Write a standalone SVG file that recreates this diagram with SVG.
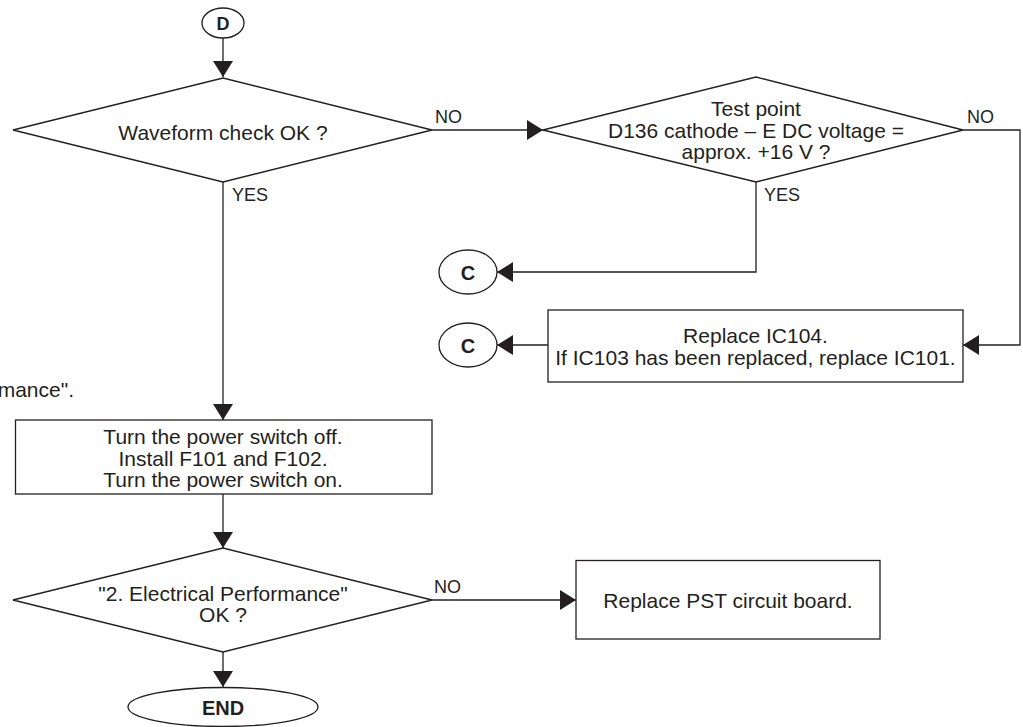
<svg xmlns="http://www.w3.org/2000/svg" width="1023" height="727" viewBox="0 0 1023 727">
<style>
.s{fill:#fff;stroke:#231f20;stroke-width:1.3}
.t{font-family:"Liberation Sans",Arial,sans-serif;font-size:21px;fill:#231f20;text-anchor:middle}
.b{font-family:"Liberation Sans",Arial,sans-serif;font-weight:bold;fill:#231f20;text-anchor:middle}
.l{font-family:"Liberation Sans",Arial,sans-serif;font-size:18px;fill:#231f20}
.c{fill:none;stroke:#231f20;stroke-width:1.3;marker-end:url(#arr)}
</style>
<defs>
<marker id="arr" markerUnits="userSpaceOnUse" markerWidth="16" markerHeight="20" refX="16" refY="10" orient="auto" viewBox="0 0 16 20"><path d="M0,0 L16,10 L0,20 z" fill="#231f20"/></marker>
</defs>
<rect width="1023" height="727" fill="#fff"/>
<g id="connectors">
<path class="c" d="M223,38 V77"/>
<path class="c" d="M432,130 H543"/>
<path class="c" d="M756,182 V272 H497"/>
<path class="c" d="M963,130 H1020 V345 H963"/>
<path class="c" d="M548,345 H497"/>
<path class="c" d="M223,182 V420"/>
<path class="c" d="M223,494 V548"/>
<path class="c" d="M432,600 H576"/>
<path class="c" d="M223,652 V687"/>
</g>
<g id="labels">
<text class="l" x="435" y="123">NO</text>
<text class="l" x="232" y="201">YES</text>
<text class="l" x="967" y="123">NO</text>
<text class="l" x="764" y="201">YES</text>
<text class="l" x="434" y="593">NO</text>
</g>
<g id="D">
<ellipse class="s" cx="223" cy="23" rx="21" ry="15"/>
<text class="b" x="223" y="29.5" font-size="18">D</text>
</g>
<g id="waveform">
<polygon class="s" points="13,130 223,78 432,130 223,182"/>
<text class="t" x="223" y="140">Waveform check OK ?</text>
</g>
<g id="testpoint">
<polygon class="s" points="543,130 756,77 963,130 756,182"/>
<text class="t" x="756" y="116">Test point</text>
<text class="t" x="756" y="137.5">D136 cathode – E DC voltage =</text>
<text class="t" x="756" y="159">approx. +16 V ?</text>
</g>
<g id="C1">
<ellipse class="s" cx="468" cy="272" rx="29" ry="22"/>
<text class="b" x="468" y="279.5" font-size="20">C</text>
</g>
<g id="C2">
<ellipse class="s" cx="468" cy="345" rx="29" ry="22"/>
<text class="b" x="468" y="352.5" font-size="20">C</text>
</g>
<g id="replaceIC">
<rect class="s" x="548" y="310" width="415" height="72"/>
<text class="t" x="755.5" y="343">Replace IC104.</text>
<text class="t" x="755.5" y="364.5">If IC103 has been replaced, replace IC101.</text>
</g>
<g id="note">
<text class="t" x="74" y="397" style="text-anchor:end" font-size="19">mance".</text>
</g>
<g id="power">
<rect class="s" x="15.5" y="420" width="416.5" height="74"/>
<text class="t" x="223" y="444">Turn the power switch off.</text>
<text class="t" x="223" y="466">Install F101 and F102.</text>
<text class="t" x="223" y="487">Turn the power switch on.</text>
</g>
<g id="elec">
<polygon class="s" points="13,600 223,548 432,600 223,652"/>
<text class="t" x="223" y="601">"2. Electrical Performance"</text>
<text class="t" x="223" y="622">OK ?</text>
</g>
<g id="pst">
<rect class="s" x="576" y="560.5" width="304" height="78.5"/>
<text class="t" x="728" y="608">Replace PST circuit board.</text>
</g>
<g id="end">
<ellipse class="s" cx="223" cy="707" rx="95" ry="19.5"/>
<text class="b" x="223" y="714.5" font-size="20">END</text>
</g>
</svg>
